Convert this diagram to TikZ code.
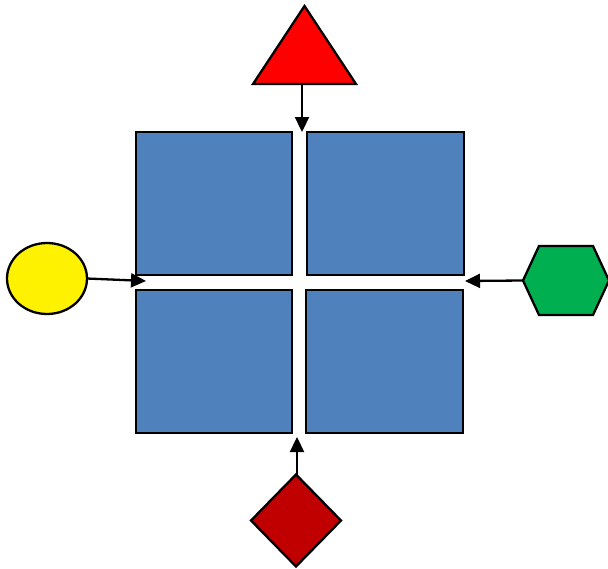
\documentclass[tikz,border=0pt]{standalone}
\usetikzlibrary{shapes.geometric,arrows.meta}
\definecolor{tileblue}{HTML}{4F81BD}
\definecolor{hexgreen}{HTML}{00B050}
\definecolor{darkred}{HTML}{C00000}
\tikzset{
  outline/.style={draw=black,line width=2.3pt,inner sep=0pt,outer sep=0pt},
  tile/.style={outline,fill=tileblue,rectangle,minimum width=#1,minimum height=143pt},
  link/.style={line width=2.3pt,-{Triangle[length=15pt,width=14pt]}}
}
\begin{document}
\begin{tikzpicture}[x=1pt,y=-1pt]
\useasboundingbox (0,0) rectangle (608,568);
% four tiles
\node[tile=156pt] (tl) at (214,203.5) {};
\node[tile=157pt] (tr) at (385.5,203.5) {};
\node[tile=156pt] (bl) at (214,361.5) {};
\node[tile=157pt] (br) at (384.5,361.5) {};
% arrow targets at the gaps
\coordinate (topgap) at (302,132);
\coordinate (leftgap) at (146,281);
\coordinate (rightgap) at (465,281);
\coordinate (botgap) at (297,437);
% surrounding shapes
\node[outline,fill=red,isosceles triangle,isosceles triangle stretches,
      shape border rotate=90,minimum width=103pt,minimum height=78pt,
      anchor=apex] (tri) at (304.5,6) {};
\node[outline,fill=yellow,ellipse,minimum width=80pt,minimum height=71pt]
      (ell) at (47,278.5) {};
\node[outline,fill=darkred,diamond,minimum width=90pt,minimum height=92pt]
      (dia) at (296,520.5) {};
\draw[outline,fill=hexgreen] (523,280.5) -- (539,246) -- (593,246)
      -- (609,280.5) -- (593,315) -- (539,315) -- cycle;
\coordinate (hexL) at (523,280.5);
% connectors
\draw[link] (tri.lower side -| topgap) -- (topgap);
\draw[link] (ell.east) -- (leftgap);
\draw[link] (hexL) -- (rightgap);
\draw[link] (dia.north -| botgap) -- (botgap);
\end{tikzpicture}
\end{document}
